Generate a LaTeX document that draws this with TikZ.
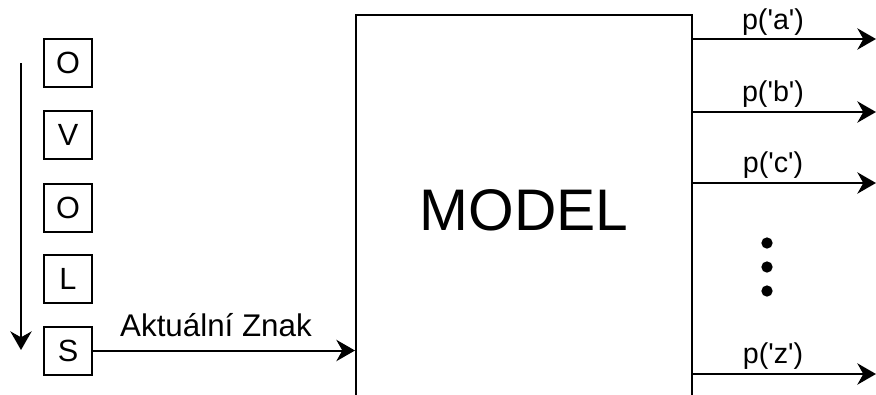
\documentclass[tikz,border=0pt]{standalone}
\usepackage{fontspec}
\setmainfont{Liberation Sans}
\usetikzlibrary{arrows.meta}
\begin{document}
\begin{tikzpicture}[x=0.75pt,y=-0.75pt,
  line width=1.5pt,
  letterbox/.style={draw, minimum width=36pt, minimum height=36pt, inner sep=0pt, font=\fontsize{23}{27}\selectfont},
  lbl/.style={font=\fontsize{21.5}{25}\selectfont, inner sep=0pt, anchor=base},
  arr/.style={-{Stealth[length=14pt,width=16pt,inset=4.5pt]}},
  dotc/.style={circle, fill=black, inner sep=0pt, minimum size=8.5pt}]
\useasboundingbox (0,0) rectangle (876,394);
\clip (0,0) rectangle (876,394);
% letter boxes
\node[letterbox] (b1) at (68,63) {O};
\node[letterbox] (b2) at (68,134.5) {V};
\node[letterbox] (b3) at (68,207.5) {O};
\node[letterbox] (b4) at (68,278.5) {L};
\node[letterbox] (b5) at (68,350.5) {S};
% left direction arrow
\coordinate (ls) at (21,63);
\coordinate (le) at (21,350);
\draw[arr] (ls) -- (le);
% model
\node[draw, minimum width=252pt, minimum height=292.5pt, inner sep=0pt,
      font=\fontsize{44}{50}\selectfont] (model) at (524,210) {MODEL};
% input arrow
\draw[arr] (b5.east) -- (b5.east -| model.west);
\node[lbl, font=\fontsize{23.5}{27}\selectfont] (inlbl) at (216,336) {Aktuální Znak};
% outputs
\coordinate (ta) at (876,39);
\coordinate (tb) at (876,112);
\coordinate (tc) at (876,183);
\coordinate (tz) at (876,374);
\draw[arr] (model.east |- ta) -- (ta);
\draw[arr] (model.east |- tb) -- (tb);
\draw[arr] (model.east |- tc) -- (tc);
\draw[arr] (model.east |- tz) -- (tz);
\node[lbl] (la) at (773,29) {p(\textquotesingle a\textquotesingle)};
\node[lbl] (lb) at (773,101) {p(\textquotesingle b\textquotesingle)};
\node[lbl] (lc) at (773,172) {p(\textquotesingle c\textquotesingle)};
\node[lbl] (lz) at (773,363) {p(\textquotesingle z\textquotesingle)};
% dots
\node[dotc] (d1) at (767,243) {};
\node[dotc] (d2) at (767,267) {};
\node[dotc] (d3) at (767,291) {};
\end{tikzpicture}
\end{document}
